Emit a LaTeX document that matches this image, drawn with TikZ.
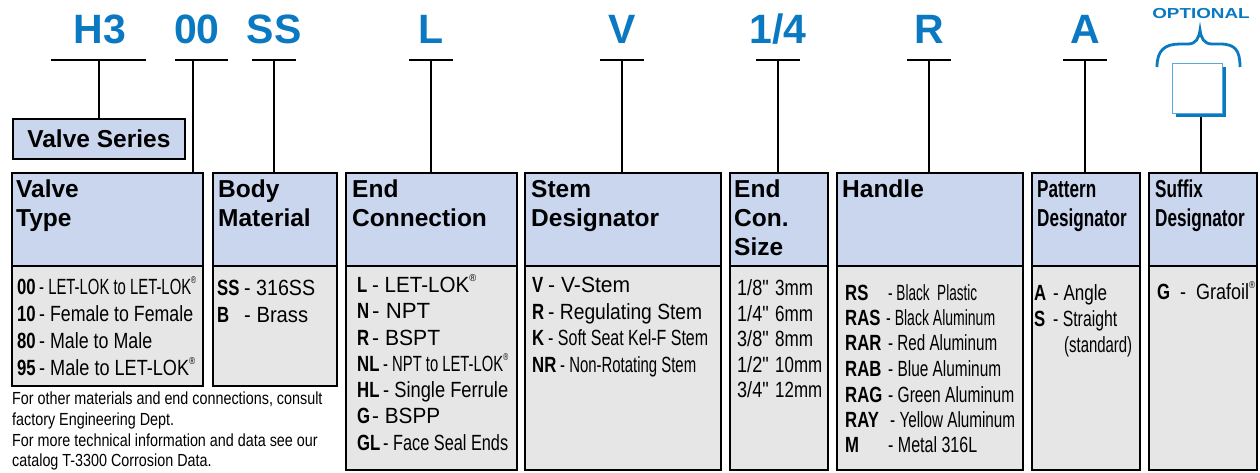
\documentclass[tikz,border=0pt]{standalone}
\usepackage{fontspec}
\usepackage{graphicx}
\setmainfont{Liberation Sans}
\newfontfamily\narrowfont[FakeStretch=0.82]{Liberation Sans}
\newfontfamily\codefont[FakeStretch=0.76]{Liberation Sans}
\newfontfamily\condfont[FakeStretch=0.70]{Liberation Sans}
\usetikzlibrary{positioning}
\definecolor{codeBlue}{HTML}{0A79C1}
\definecolor{hdrBlue}{HTML}{CAD5EE}
\definecolor{bodyGray}{HTML}{E6E6E6}
\definecolor{optEdge}{HTML}{5BA8DE}

% code in bold, then the dash and text squeezed to a width
\newcommand{\opt}[4]{\makebox[#1pt][l]{\codefont\bfseries #2}\resizebox{#3pt}{\height}{- #4}}
\newcommand{\sizerow}[3]{\makebox[38pt][l]{#1{\char34}}\resizebox{#2pt}{\height}{#3}}
\newcommand{\reg}{\raisebox{0.5em}{\fontsize{10}{10}\selectfont ®}}

\begin{document}
\begin{tikzpicture}[x=1pt, y=-1pt,
    code/.style={text=codeBlue, font=\fontsize{41}{41}\selectfont\bfseries, anchor=base, inner sep=0},
    bar/.style={line width=1.5pt},
    hdr/.style={draw, line width=1.8pt, fill=hdrBlue, anchor=north west, inner sep=0},
    bdy/.style={draw, line width=1.8pt, fill=bodyGray, anchor=north west, inner sep=0},
    hdrtxt/.style={anchor=north west, inner sep=0, align=left, font=\fontsize{24.5}{29}\selectfont\bfseries},
    condtxt/.style={hdrtxt, font=\condfont\fontsize{24.5}{29}\selectfont\bfseries},
    row/.style={anchor=base west, inner sep=0, font=\narrowfont\fontsize{22}{26}\selectfont}]
    \useasboundingbox (0,0) rectangle (1260,472);

    % ordering code
    \node[code] (cH3) at (100,43) {H3};
    \node[code] (c00) at (197,43) {00};
    \node[code] (cSS) at (274,43) {SS};
    \node[code] (cL) at (431,43) {L};
    \node[code] (cV) at (622,43) {V};
    \node[code] (cSz) at (778,43) {1/4};
    \node[code] (cR) at (929,43) {R};
    \node[code] (cA) at (1085,43) {A};

    \coordinate (k1) at (99,60);
    \coordinate (k2) at (193,60);
    \coordinate (k3) at (274,60);
    \coordinate (k4) at (431,60);
    \coordinate (k5) at (622,60);
    \coordinate (k6) at (778,60);
    \coordinate (k7) at (929,60);
    \coordinate (k8) at (1085,60);
    \draw[bar] ([xshift=-48pt]k1) -- ([xshift=47pt]k1);
    \draw[bar] ([xshift=-18pt]k2) -- ([xshift=35pt]k2);
    \foreach \k in {k3,k4,k5,k6,k7,k8}
        \draw[bar] ([xshift=-22pt]\k) -- ([xshift=22pt]\k);

    % optional suffix
    \node[font=\fontsize{14.5}{14.5}\selectfont\bfseries, text=codeBlue, inner sep=0] (optTxt) at (1201,14) {\scalebox{1.3}[1]{OPTIONAL}};
    \draw[codeBlue, line width=2.8pt] (1157,67) .. controls (1157,50) and (1165,44) .. (1180,44) -- (1188,44)
        .. controls (1196,44) and (1199,38) .. (1200,30) .. controls (1201,38) and (1204,44) .. (1212,44)
        -- (1220,44) .. controls (1235,44) and (1240,50) .. (1240,67);
    \node[fill=codeBlue, minimum width=50pt, minimum height=50pt, inner sep=0] (optShadow) at (1201,92) {};
    \node[draw=optEdge, fill=white, line width=1pt, minimum width=50pt, minimum height=50pt, inner sep=0] (optBox) at (1197,88) {};

    % valve series
    \node[hdr, minimum width=172pt, minimum height=40pt, anchor=north west, font=\fontsize{24.5}{29}\selectfont\bfseries] (vs) at (12,118) {Valve Series};

    % columns
    \node[bdy, minimum width=191pt, minimum height=120pt] (vtB) at (11,265) {};
    \node[hdr, minimum width=191pt, minimum height=93pt] (vtH) at (11,172) {};
    \node[bdy, minimum width=124pt, minimum height=120pt] (bmB) at (212,265) {};
    \node[hdr, minimum width=124pt, minimum height=93pt] (bmH) at (212,172) {};
    \node[bdy, minimum width=171pt, minimum height=204pt] (ecB) at (345,265) {};
    \node[hdr, minimum width=171pt, minimum height=93pt] (ecH) at (345,172) {};
    \node[bdy, minimum width=196pt, minimum height=204pt] (smB) at (524,265) {};
    \node[hdr, minimum width=196pt, minimum height=93pt] (smH) at (524,172) {};
    \node[bdy, minimum width=98pt, minimum height=204pt] (szB) at (729,265) {};
    \node[hdr, minimum width=98pt, minimum height=93pt] (szH) at (729,172) {};
    \node[bdy, minimum width=186pt, minimum height=204pt] (hdB) at (836,265) {};
    \node[hdr, minimum width=186pt, minimum height=93pt] (hdH) at (836,172) {};
    \node[bdy, minimum width=108pt, minimum height=204pt] (ptB) at (1031,265) {};
    \node[hdr, minimum width=108pt, minimum height=93pt] (ptH) at (1031,172) {};
    \node[bdy, minimum width=108pt, minimum height=204pt] (sfB) at (1148,265) {};
    \node[hdr, minimum width=108pt, minimum height=93pt] (sfH) at (1148,172) {};

    \draw[bar] (k1) -- (k1 |- vs.north);
    \draw[bar] (k2) -- (k2 |- vtH.north);
    \draw[bar] (k3) -- (k3 |- bmH.north);
    \draw[bar] (k4) -- (k4 |- ecH.north);
    \draw[bar] (k5) -- (k5 |- smH.north);
    \draw[bar] (k6) -- (k6 |- szH.north);
    \draw[bar] (k7) -- (k7 |- hdH.north);
    \draw[bar] (k8) -- (k8 |- ptH.north);
    \draw[bar] (optShadow.south) -- (optShadow.south |- sfH.north);

    \node[hdrtxt] (vtT) at (16,180) {Valve\\Type};
    \node[hdrtxt] (bmT) at (218,180) {Body\\Material};
    \node[hdrtxt] (ecT) at (352,180) {End\\Connection};
    \node[hdrtxt] (smT) at (531,180) {Stem\\Designator};
    \node[hdrtxt] (szT) at (734,180) {End\\Con.\\Size};
    \node[hdrtxt] (hdT) at (842,180) {Handle};
    \node[condtxt] (ptT) at (1037,180) {Pattern\\Designator};
    \node[condtxt] (sfT) at (1155,180) {Suffix\\Designator};

    % valve type
    \node[row] (vt1) at (17,294) {\opt{22}{00}{157}{LET-LOK to LET-LOK\reg}};
    \node[row] (vt2) at (17,321) {\opt{22}{10}{154}{Female to Female}};
    \node[row] (vt3) at (17,348) {\opt{22}{80}{113}{Male to Male}};
    \node[row] (vt4) at (17,375) {\opt{22}{95}{156}{Male to LET-LOK\reg}};
    % body material
    \node[row] (bm1) at (217,295) {\opt{27}{SS}{71}{316SS}};
    \node[row] (bm2) at (217,322) {\opt{27}{B}{64}{Brass}};
    % end connection
    \node[row] (ec1) at (357,292) {\opt{15}{L}{104}{LET-LOK\reg}};
    \node[row] (ec2) at (357,318) {\opt{15}{N}{58}{NPT}};
    \node[row] (ec3) at (357,345) {\opt{15}{R}{68}{BSPT}};
    \node[row] (ec4) at (357,371) {\opt{26}{NL}{125}{NPT to LET-LOK\reg}};
    \node[row] (ec5) at (357,397) {\opt{26}{HL}{125}{Single Ferrule}};
    \node[row] (ec6) at (357,423) {\opt{15}{G}{68}{BSPP}};
    \node[row] (ec7) at (357,450) {\opt{26}{GL}{125}{Face Seal Ends}};
    % stem designator
    \node[row] (sm1) at (532,292) {\opt{16}{V}{82}{V-Stem}};
    \node[row] (sm2) at (532,319) {\opt{16}{R}{154}{Regulating Stem}};
    \node[row] (sm3) at (532,345) {\opt{16}{K}{160}{Soft Seat Kel-F Stem}};
    \node[row] (sm4) at (532,372) {\opt{28}{NR}{136}{Non-Rotating Stem}};
    % end connection size
    \node[row] (sz1) at (737,295) {\sizerow{1/8}{38}{3mm}};
    \node[row] (sz2) at (737,321) {\sizerow{1/4}{38}{6mm}};
    \node[row] (sz3) at (737,346) {\sizerow{3/8}{38}{8mm}};
    \node[row] (sz4) at (737,372) {\sizerow{1/2}{47}{10mm}};
    \node[row] (sz5) at (737,397) {\sizerow{3/4}{47}{12mm}};
    % handle
    \node[row] (hd1) at (845,300) {\opt{43}{RS}{89}{Black\ \ Plastic}};
    \node[row] (hd2) at (845,325) {\opt{41}{RAS}{109}{Black Aluminum}};
    \node[row] (hd3) at (845,350) {\opt{43}{RAR}{109}{Red Aluminum}};
    \node[row] (hd4) at (845,376) {\opt{43}{RAB}{113}{Blue Aluminum}};
    \node[row] (hd5) at (845,402) {\opt{43}{RAG}{126}{Green Aluminum}};
    \node[row] (hd6) at (845,427) {\opt{45}{RAY}{125}{Yellow Aluminum}};
    \node[row] (hd7) at (845,452) {\opt{43}{M}{89}{Metal 316L}};
    % pattern designator
    \node[row] (pt1) at (1034,300) {\opt{19}{A}{54}{Angle}};
    \node[row] (pt2) at (1034,326) {\opt{19}{S}{64}{Straight}};
    \node[row] (pt3) at (1064,352) {\resizebox{68pt}{\height}{(standard)}};
    % suffix designator
    \node[row] (sf1) at (1157,299) {\opt{23}{G}{75}{\ Grafoil\reg}};

    % note below the first columns
    \node[anchor=north west, inner sep=0, align=left, font=\narrowfont\fontsize{17.5}{20.7}\selectfont] (note) at (12,392)
        {For other materials and end connections, consult\\factory Engineering Dept.\\For more technical information and data see our\\catalog T-3300 Corrosion Data.};
\end{tikzpicture}
\end{document}
